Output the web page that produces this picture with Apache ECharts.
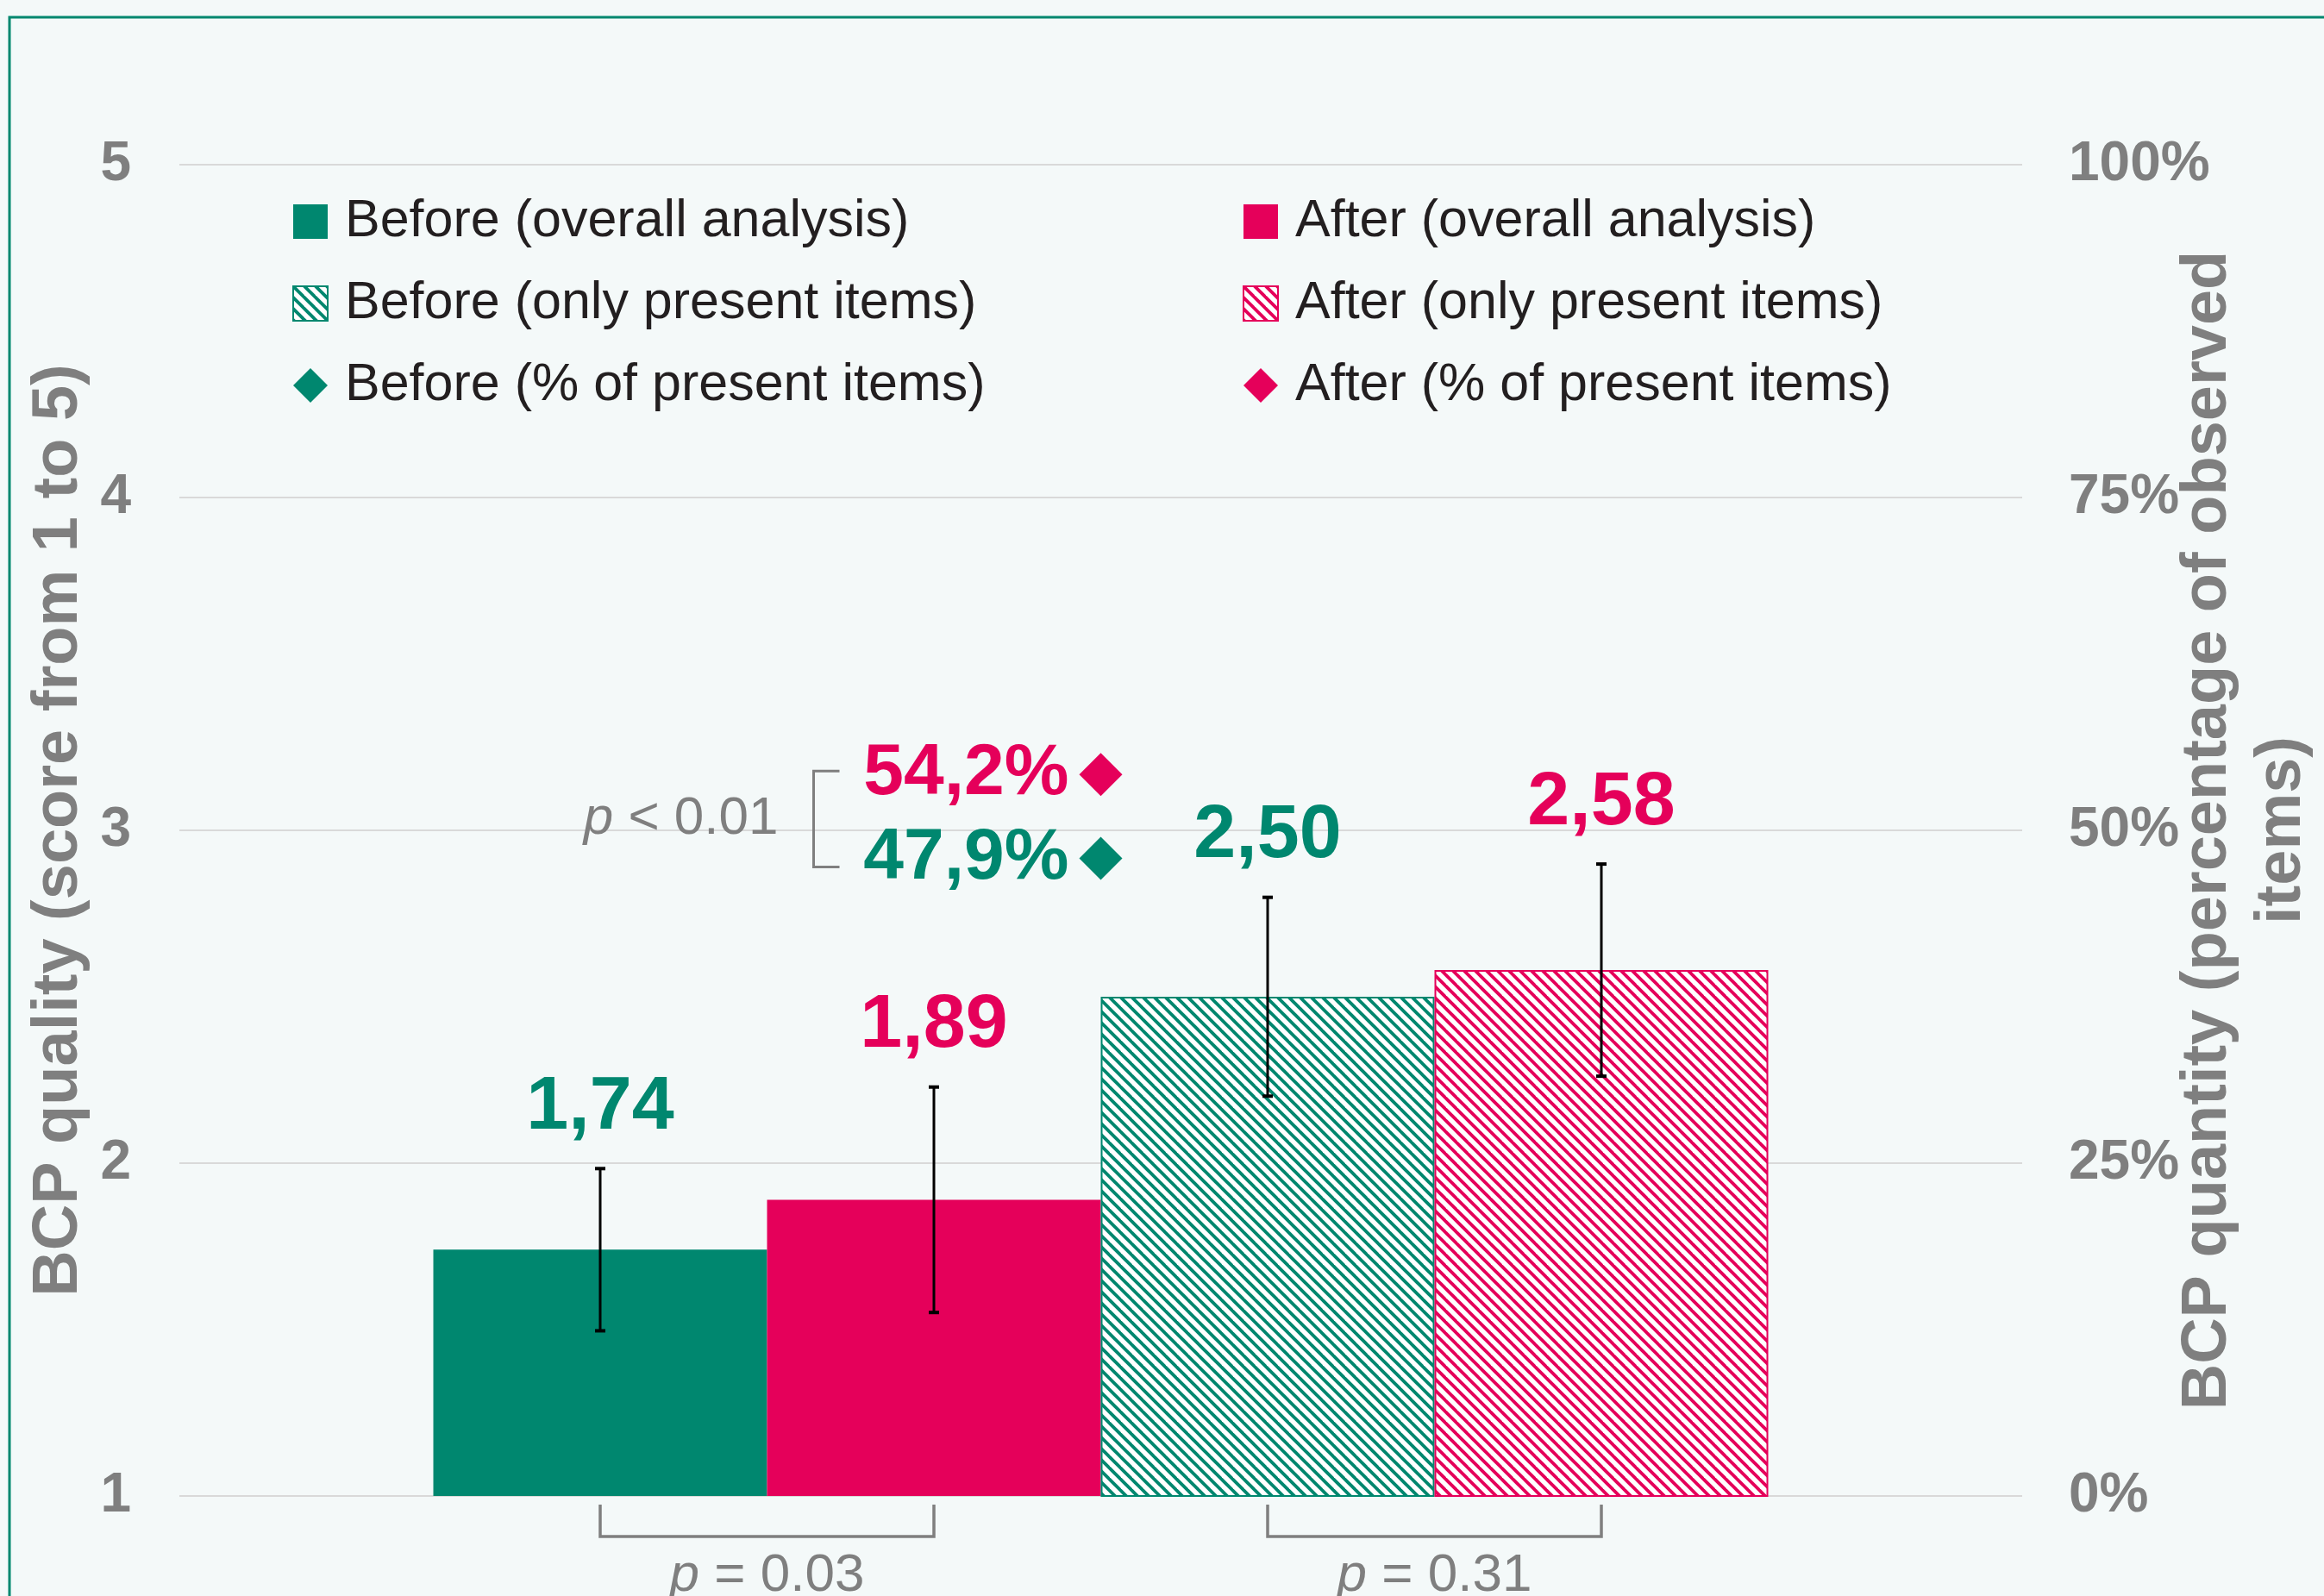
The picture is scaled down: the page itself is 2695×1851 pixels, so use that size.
<!DOCTYPE html>
<html>
<head>
<meta charset="utf-8">
<script src="https://cdn.jsdelivr.net/npm/echarts@6/dist/echarts.min.js"></script>
<style>
  html, body { margin: 0; padding: 0; background: #f4f9f9; }
  #main { width: 2695px; height: 1851px; }
</style>
</head>
<body>
<div id="main"></div>
<script>
// 颜色
var TEAL = '#00876f', PINK = '#e5005a', GREY = '#7f7f7f';
var FONT = '"Liberation Sans", Arial, sans-serif';

// 数据
var categories = [''];
var barNames = ['Before (overall analysis)', 'After (overall analysis)',
                'Before (only present items)', 'After (only present items)'];
var quality = [1.74, 1.89, 2.50, 2.58];
var qualityErr = [0.245, 0.34, 0.30, 0.32];
var diamondNames = ['Before (% of present items)', 'After (% of present items)'];
var quantity = [47.9, 54.2];
var leftTicks = ['1', '2', '3', '4', '5'];
var rightTicks = ['0%', '25%', '50%', '75%', '100%'];
var pLabels = ['p < 0.01', 'p = 0.03', 'p = 0.31'];

var BAR_W = 387;

// 斜线填充
function stripes(color) {
  var P = 13, c = document.createElement('canvas');
  c.width = P; c.height = P;
  var g = c.getContext('2d');
  g.fillStyle = '#ffffff';
  g.fillRect(0, 0, P, P);
  g.strokeStyle = color;
  g.lineWidth = 3.8;
  for (var k = -1; k <= 1; k++) {
    g.beginPath();
    g.moveTo(-2, -2 + k * P);
    g.lineTo(P + 2, P + 2 + k * P);
    g.stroke();
  }
  return { image: c, repeat: 'repeat' };
}

function comma(v, d) { return v.toFixed(d).replace('.', ','); }

var myChart = echarts.init(document.getElementById('main'));

var series = quality.map(function (v, i) {
  var col = i % 2 ? PINK : TEAL, hatched = i >= 2;
  return {
    name: barNames[i],
    type: 'bar',
    barWidth: BAR_W,
    barGap: '0%',
    data: [v],
    itemStyle: {
      color: hatched ? stripes(col) : col,
      borderColor: col,
      borderWidth: hatched ? 2 : 0
    },
    z: 2
  };
});

quantity.forEach(function (v, i) {
  var col = i ? PINK : TEAL;
  series.push({
    name: diamondNames[i],
    type: 'scatter',
    yAxisIndex: 1,
    symbol: 'diamond',
    symbolSize: 50,
    data: [v],
    itemStyle: { color: col, opacity: 1 },
    label: {
      show: true, position: 'left', distance: 12,
      formatter: function (p) { return comma(p.value, 1) + '%'; },
      color: col, fontSize: 84, fontWeight: 'bold', fontFamily: FONT
    },
    z: 5
  });
});

// 误差线 + 数值
series.push({
  type: 'custom',
  data: quality.map(function (v, i) { return [0, v, qualityErr[i], i]; }),
  renderItem: function (params, api) {
    var i = api.value(3), v = api.value(1), e = api.value(2);
    var top = api.coord([0, v + e]), bot = api.coord([0, v - e]);
    var x = top[0] + (i - 1.5) * BAR_W;
    var col = i % 2 ? PINK : TEAL;
    return {
      type: 'group',
      children: [
        { type: 'line', shape: { x1: x, y1: top[1], x2: x, y2: bot[1] }, style: { stroke: '#000', lineWidth: 3 } },
        { type: 'rect', shape: { x: x - 6, y: top[1] - 1.5, width: 12, height: 4 }, style: { fill: '#000' } },
        { type: 'rect', shape: { x: x - 6, y: bot[1] - 2.5, width: 12, height: 4 }, style: { fill: '#000' } },
        { type: 'text', x: x, y: top[1] - 70,
          style: { text: comma(v, 2), fill: col, font: 'bold 88px ' + FONT, align: 'center', verticalAlign: 'middle' } }
      ]
    };
  },
  z: 6
});

var legendText = { color: '#231f20', fontSize: 61, lineHeight: 72, fontFamily: FONT, padding: [0, 0, 0, 15] };

var option = {
  backgroundColor: '#f4f9f9',
  animation: false,
  grid: { left: 208, right: 350, top: 191, bottom: 1851 - 1735, outerBoundsMode: 'none', containLabel: false },
  legend: [
    {
      left: 334, top: 216, orient: 'vertical', itemWidth: 40, itemHeight: 40, itemGap: 23,
      selectedMode: false,
      data: [{ name: barNames[0], icon: 'rect' }, { name: barNames[2], icon: 'rect' }, { name: diamondNames[0], icon: 'diamond' }],
      textStyle: legendText
    },
    {
      left: 1436, top: 216, orient: 'vertical', itemWidth: 40, itemHeight: 40, itemGap: 23,
      selectedMode: false,
      data: [{ name: barNames[1], icon: 'rect' }, { name: barNames[3], icon: 'rect' }, { name: diamondNames[1], icon: 'diamond' }],
      textStyle: legendText
    }
  ],
  xAxis: {
    type: 'category',
    data: categories,
    axisLine: { show: false },
    axisTick: { show: false },
    axisLabel: { show: false }
  },
  yAxis: [
    {
      type: 'value', min: 1, max: 5, interval: 1,
      name: 'BCP quality (score from 1 to 5)',
      nameLocation: 'middle', nameRotate: 90, nameGap: 100,
      nameTextStyle: { color: GREY, fontSize: 74, fontWeight: 'bold', fontFamily: FONT },
      axisLine: { show: false }, axisTick: { show: false },
      axisLabel: {
        color: GREY, fontSize: 64, fontWeight: 'bold', fontFamily: FONT, margin: 56,
        formatter: function (val, idx) { return leftTicks[idx]; }
      },
      splitLine: { lineStyle: { color: '#d9d9d9', width: 2 } }
    },
    {
      type: 'value', min: 0, max: 100, interval: 25,
      name: 'BCP quantity (percentage of observed\nitems)',
      nameLocation: 'middle', nameRotate: 90, nameGap: 173, nameMoveOverlap: false,
      nameTextStyle: { color: GREY, fontSize: 74, fontWeight: 'bold', fontFamily: FONT, lineHeight: 86 },
      axisLine: { show: false }, axisTick: { show: false },
      axisLabel: {
        color: GREY, fontSize: 64, fontWeight: 'bold', fontFamily: FONT, margin: 54, align: 'left',
        formatter: function (val, idx) { return rightTicks[idx]; }
      },
      splitLine: { show: false }
    }
  ],
  series: series
};

myChart.setOption(option);

// 括号与 p 值
var base = myChart.convertToPixel({ xAxisIndex: 0, yAxisIndex: 0 }, [0, 1]);
var cx = base[0], yAxis0 = base[1];
var yAfter = myChart.convertToPixel({ xAxisIndex: 0, yAxisIndex: 1 }, [0, quantity[1]])[1];
var yBefore = myChart.convertToPixel({ xAxisIndex: 0, yAxisIndex: 1 }, [0, quantity[0]])[1];
var pStyle = { fill: GREY, font: '62px ' + FONT, rich: { i: { fontStyle: 'italic', fontSize: 62, fontFamily: FONT, fill: GREY } } };

function pText(str) { return '{i|p}' + str.slice(1); }

var graphics = [
  { type: 'rect', shape: { x: 11, y: 20, width: 2800, height: 2000 }, style: { fill: 'none', stroke: TEAL, lineWidth: 3 }, z: -1 }
];

var bx = cx - 333, by1 = yAfter - 4, by2 = yBefore + 10;
graphics.push({ type: 'polyline', shape: { points: [[bx + 30, by1], [bx, by1], [bx, by2], [bx + 30, by2]] }, style: { stroke: GREY, lineWidth: 3, fill: 'none' } });
graphics.push({ type: 'text', x: cx - 374, y: (by1 + by2) / 2,
  style: Object.assign({ text: pText(pLabels[0]), align: 'right', verticalAlign: 'middle' }, pStyle) });

[[0, 1, pLabels[1]], [2, 3, pLabels[2]]].forEach(function (pr) {
  var x1 = cx + (pr[0] - 1.5) * BAR_W, x2 = cx + (pr[1] - 1.5) * BAR_W;
  var y0 = yAxis0 + 10, y1 = yAxis0 + 47;
  graphics.push({ type: 'polyline', shape: { points: [[x1, y0], [x1, y1], [x2, y1], [x2, y0]] }, style: { stroke: GREY, lineWidth: 3.5, fill: 'none' } });
  graphics.push({ type: 'text', x: (x1 + x2) / 2, y: y1 + 46,
    style: Object.assign({ text: pText(pr[2]), align: 'center', verticalAlign: 'middle' }, pStyle) });
});

myChart.setOption({ graphic: graphics });
</script>
</body>
</html>
